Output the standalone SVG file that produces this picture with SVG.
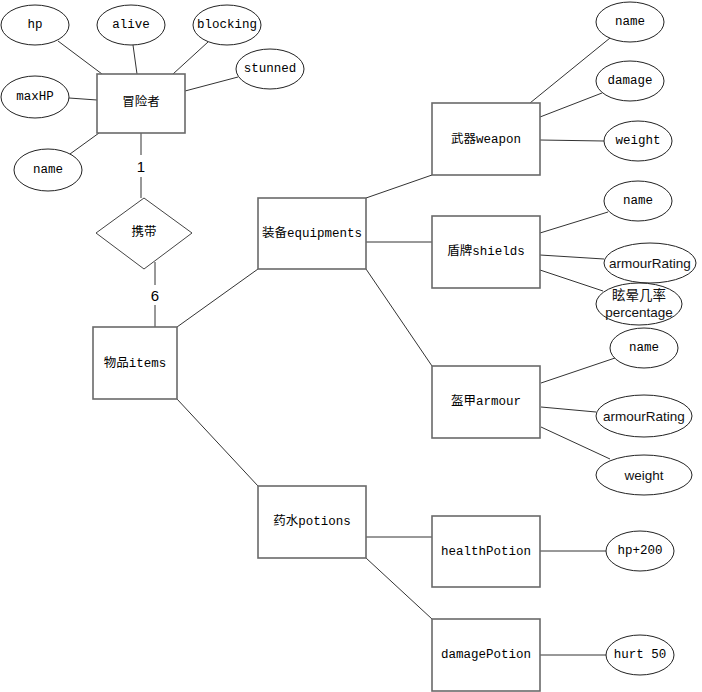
<svg xmlns="http://www.w3.org/2000/svg" width="702" height="692" viewBox="0 0 702 692">
<style>
.bg{fill:#fff}
.box{fill:#fff;stroke:#6a6a6a;stroke-width:1.6}
.ell{fill:#fff;stroke:#222;stroke-width:1}
.dia{fill:#fff;stroke:#444;stroke-width:1}
.ln{stroke:#333;stroke-width:1;fill:none}
.t{font-family:"Liberation Mono","Noto Sans CJK SC",monospace;font-size:12.5px;fill:#000;text-anchor:middle;dominant-baseline:central}
.s{font-family:"Liberation Sans","Noto Sans CJK SC",sans-serif;font-size:13.5px;fill:#111;text-anchor:middle;dominant-baseline:central}
.c{font-family:"Liberation Sans",sans-serif;font-size:15px;fill:#000;text-anchor:middle;dominant-baseline:central}
</style>
<rect class="bg" x="0" y="0" width="702" height="692"/>
<g id="connectors">
<line class="ln" x1="58" y1="41" x2="102" y2="74"/>
<line class="ln" x1="133" y1="45" x2="137" y2="74"/>
<line class="ln" x1="208" y1="42" x2="173" y2="74"/>
<line class="ln" x1="238" y1="77" x2="185" y2="91"/>
<line class="ln" x1="69" y1="98" x2="97" y2="100"/>
<line class="ln" x1="70" y1="154" x2="99" y2="133"/>
<line class="ln" x1="141" y1="133" x2="141" y2="155"/>
<line class="ln" x1="141" y1="177" x2="141" y2="198"/>
<line class="ln" x1="155" y1="262" x2="155" y2="285"/>
<line class="ln" x1="155" y1="305" x2="155" y2="327"/>
<line class="ln" x1="177" y1="327" x2="258" y2="269"/>
<line class="ln" x1="177" y1="399" x2="258" y2="486"/>
<line class="ln" x1="366" y1="198" x2="432" y2="175"/>
<line class="ln" x1="366" y1="242" x2="432" y2="242"/>
<line class="ln" x1="366" y1="269" x2="432" y2="366"/>
<line class="ln" x1="366" y1="537" x2="432" y2="537"/>
<line class="ln" x1="366" y1="558" x2="432" y2="619"/>
<line class="ln" x1="540" y1="551" x2="607" y2="551"/>
<line class="ln" x1="540" y1="655" x2="607" y2="655"/>
<line class="ln" x1="610" y1="38" x2="530" y2="103"/>
<line class="ln" x1="602" y1="93" x2="540" y2="117"/>
<line class="ln" x1="540" y1="140" x2="604" y2="141"/>
<line class="ln" x1="540" y1="233" x2="608" y2="212"/>
<line class="ln" x1="540" y1="255" x2="604" y2="259"/>
<line class="ln" x1="540" y1="270" x2="603" y2="291"/>
<line class="ln" x1="541" y1="383" x2="615" y2="358"/>
<line class="ln" x1="541" y1="407" x2="596" y2="412"/>
<line class="ln" x1="541" y1="427" x2="610" y2="459"/>
<text class="c" x="141" y="166">1</text>
<text class="c" x="155" y="295">6</text>
</g>
<g id="adventurer"><rect class="box" x="97" y="74" width="88" height="59"/><text class="t" x="141" y="103">冒险者</text></g>
<g id="attr-hp"><ellipse class="ell" cx="35" cy="25" rx="34" ry="20"/><text class="t" x="35" y="25">hp</text></g>
<g id="attr-alive"><ellipse class="ell" cx="131" cy="25" rx="34" ry="20"/><text class="t" x="131" y="25">alive</text></g>
<g id="attr-blocking"><ellipse class="ell" cx="227" cy="25" rx="34" ry="20"/><text class="t" x="227" y="25">blocking</text></g>
<g id="attr-stunned"><ellipse class="ell" cx="270" cy="69" rx="34" ry="20"/><text class="t" x="270" y="69">stunned</text></g>
<g id="attr-maxHP"><ellipse class="ell" cx="35" cy="97" rx="34" ry="21"/><text class="t" x="35" y="97">maxHP</text></g>
<g id="attr-name"><ellipse class="ell" cx="48" cy="170" rx="34" ry="21"/><text class="t" x="48" y="170">name</text></g>
<g id="carry"><polygon class="dia" points="144,198 192,233 144,269 96,233"/><text class="t" x="144" y="233">携带</text></g>
<g id="items"><rect class="box" x="93" y="327" width="84" height="72"/><text class="t" x="135" y="364">物品items</text></g>
<g id="equipments"><rect class="box" x="258" y="198" width="108" height="71"/><text class="t" x="312" y="234">装备equipments</text></g>
<g id="potions"><rect class="box" x="258" y="486" width="108" height="72"/><text class="t" x="312" y="522">药水potions</text></g>
<g id="weapon"><rect class="box" x="432" y="103" width="108" height="72"/><text class="t" x="486" y="140">武器weapon</text></g>
<g id="shields"><rect class="box" x="432" y="216" width="108" height="72"/><text class="t" x="486" y="252">盾牌shields</text></g>
<g id="armour"><rect class="box" x="432" y="366" width="108" height="72"/><text class="t" x="486" y="402">盔甲armour</text></g>
<g id="healthPotion"><rect class="box" x="432" y="516" width="108" height="71"/><text class="t" x="486" y="552">healthPotion</text></g>
<g id="damagePotion"><rect class="box" x="432" y="619" width="108" height="72"/><text class="t" x="486" y="655">damagePotion</text></g>
<g id="w-name"><ellipse class="ell" cx="630" cy="22" rx="34" ry="20"/><text class="t" x="630" y="22">name</text></g>
<g id="w-damage"><ellipse class="ell" cx="630" cy="81" rx="34" ry="20"/><text class="t" x="630" y="81">damage</text></g>
<g id="w-weight"><ellipse class="ell" cx="638" cy="141" rx="34" ry="20"/><text class="t" x="638" y="141">weight</text></g>
<g id="s-name"><ellipse class="ell" cx="638" cy="201" rx="34" ry="20"/><text class="t" x="638" y="201">name</text></g>
<g id="s-armourRating"><ellipse class="ell" cx="650" cy="263" rx="46" ry="20"/><text class="s" x="650" y="263">armourRating</text></g>
<g id="s-percentage"><ellipse class="ell" cx="639" cy="304" rx="43" ry="21"/><text class="s" x="639" y="295">眩晕几率</text><text class="s" x="639" y="312">percentage</text></g>
<g id="a-name"><ellipse class="ell" cx="644" cy="348" rx="34" ry="20"/><text class="t" x="644" y="348">name</text></g>
<g id="a-armourRating"><ellipse class="ell" cx="644" cy="416" rx="48" ry="21"/><text class="s" x="644" y="416">armourRating</text></g>
<g id="a-weight"><ellipse class="ell" cx="644" cy="475" rx="48" ry="20"/><text class="s" x="644" y="475">weight</text></g>
<g id="hp200"><ellipse class="ell" cx="640" cy="551" rx="34" ry="20"/><text class="t" x="640" y="551">hp+200</text></g>
<g id="hurt50"><ellipse class="ell" cx="640" cy="655" rx="34" ry="20"/><text class="t" x="640" y="655">hurt 50</text></g>
</svg>
